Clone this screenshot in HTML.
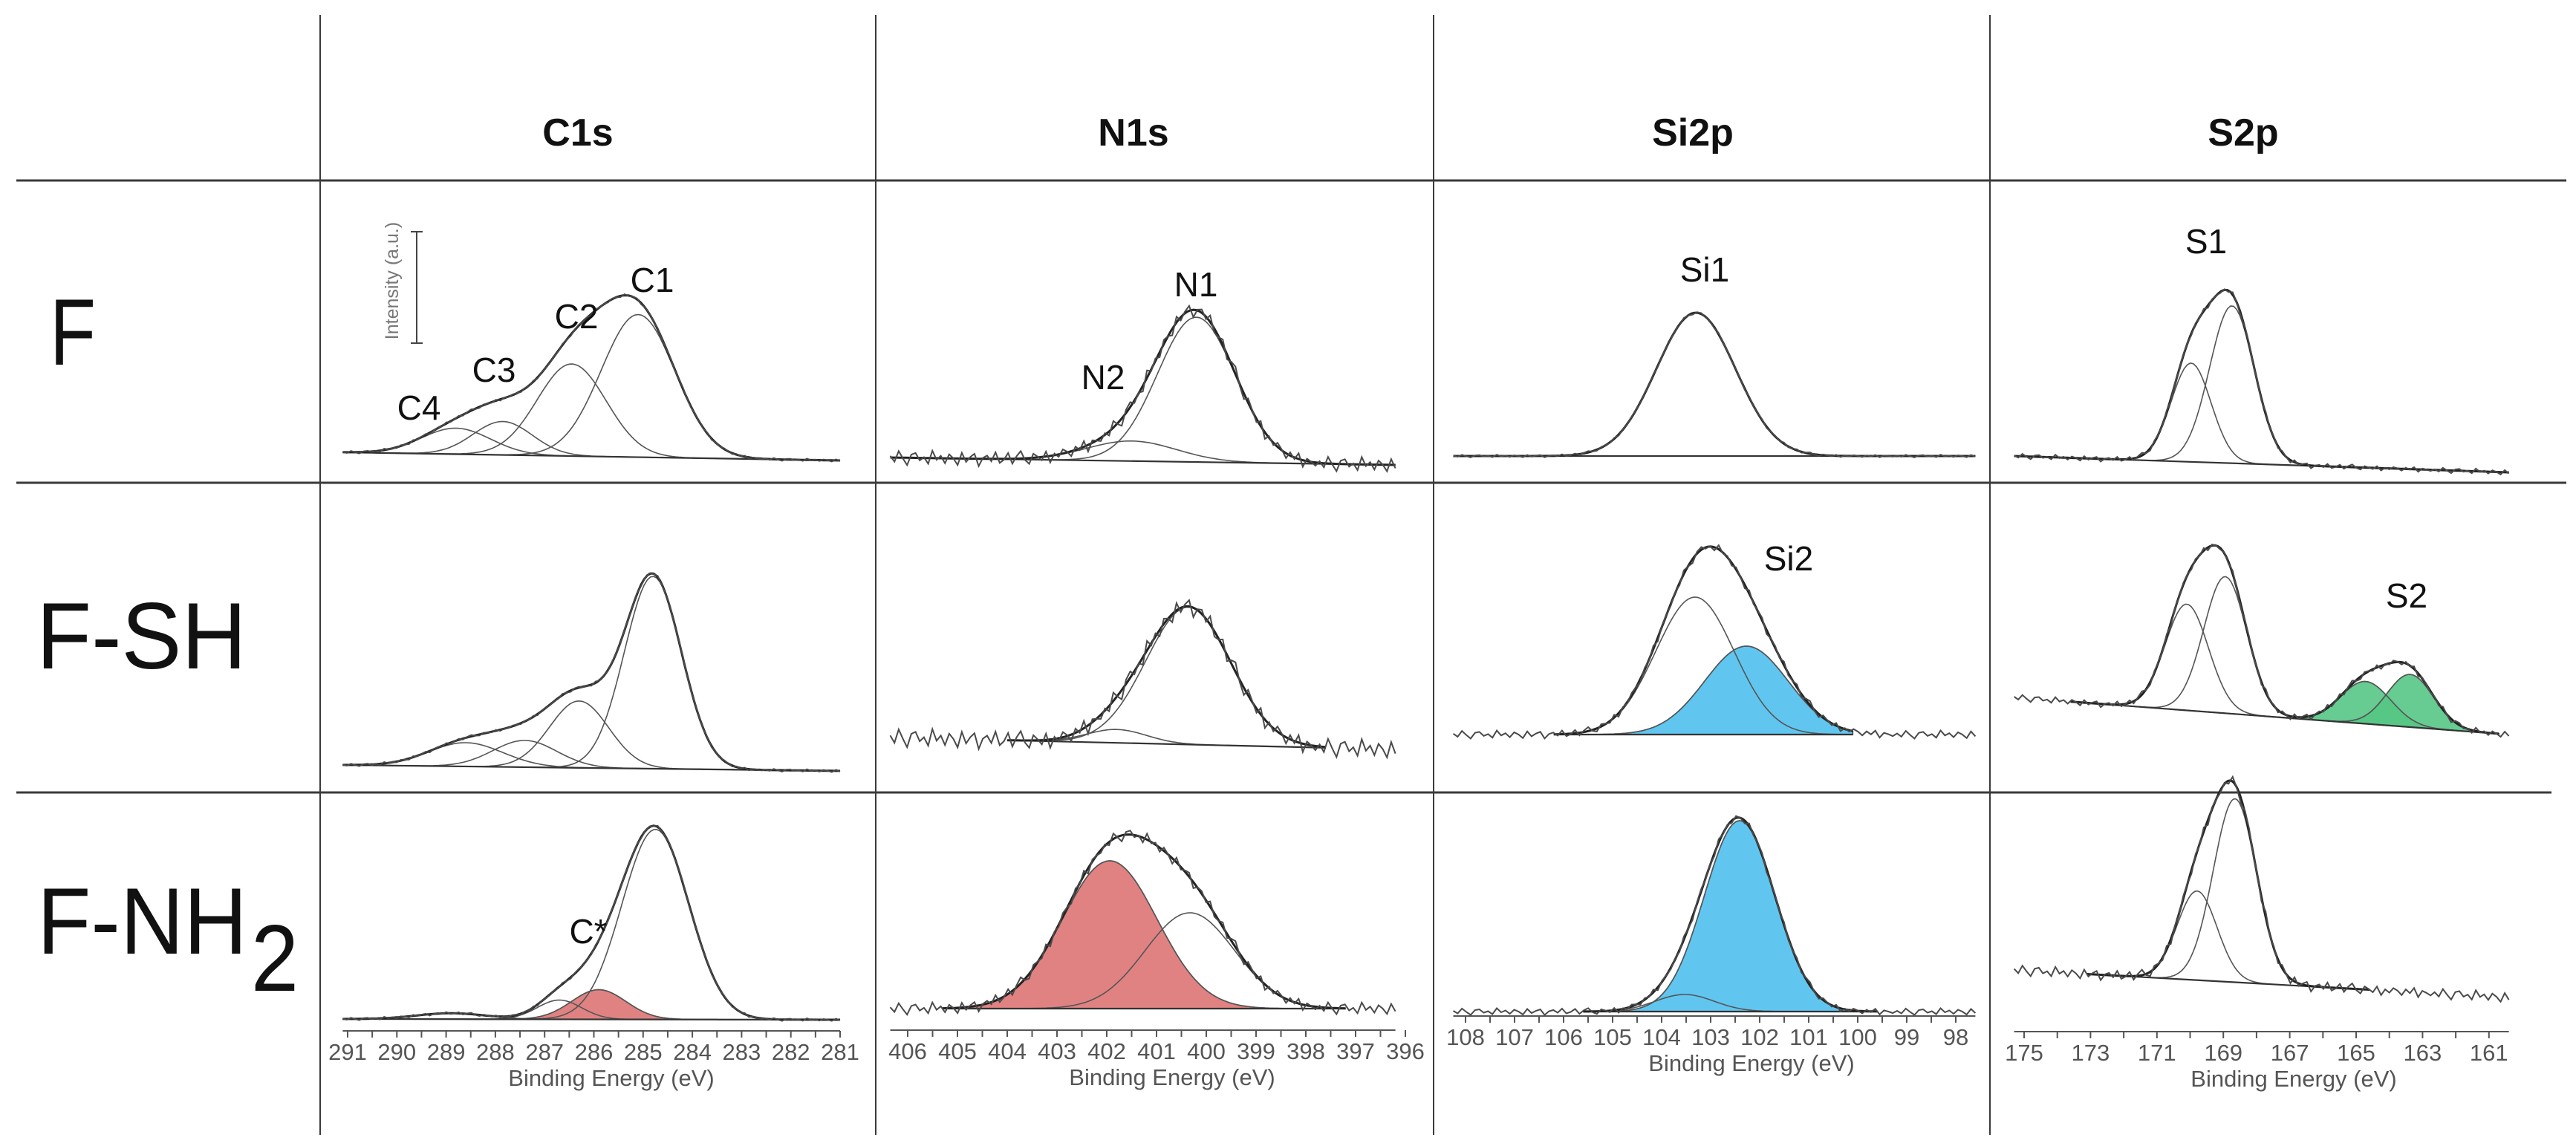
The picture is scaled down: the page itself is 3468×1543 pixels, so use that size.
<!DOCTYPE html>
<html><head><meta charset="utf-8"><title>XPS spectra grid</title>
<style>
html,body{margin:0;padding:0;background:#fff;}
svg{display:block;}
text{font-family:"Liberation Sans",sans-serif;}
</style></head>
<body>
<svg id="fig" width="3468" height="1543" viewBox="0 0 3468 1543" xmlns="http://www.w3.org/2000/svg">
<rect x="0" y="0" width="3468" height="1543" fill="#fff"/>
<g stroke="#3a3a3a">
<line x1="431" y1="20" x2="431" y2="1528" stroke-width="2"/>
<line x1="1179" y1="20" x2="1179" y2="1528" stroke-width="2"/>
<line x1="1930" y1="20" x2="1930" y2="1528" stroke-width="2"/>
<line x1="2679" y1="20" x2="2679" y2="1528" stroke-width="2"/>
<line x1="22" y1="243" x2="3455" y2="243" stroke-width="3"/>
<line x1="22" y1="650" x2="3455" y2="650" stroke-width="3"/>
<line x1="22" y1="1067" x2="3435" y2="1067" stroke-width="3"/>
</g>
<g font-weight="bold" font-size="52" text-anchor="middle" fill="#111">
<text x="778" y="196">C1s</text>
<text x="1526" y="196">N1s</text>
<text x="2279" y="196">Si2p</text>
<text x="3020" y="196">S2p</text>
</g>
<g font-size="127" fill="#111">
<text x="67" y="491" textLength="62" lengthAdjust="spacingAndGlyphs">F</text>
<text x="49" y="900" textLength="283" lengthAdjust="spacingAndGlyphs">F-SH</text>
<text x="50" y="1284" textLength="283" lengthAdjust="spacingAndGlyphs">F-NH</text>
<text x="338" y="1334" textLength="64" lengthAdjust="spacingAndGlyphs">2</text>
</g>
<g stroke="#444" stroke-width="2">
<line x1="561" y1="312" x2="561" y2="462"/>
<line x1="553" y1="312" x2="569" y2="312"/>
<line x1="553" y1="462" x2="569" y2="462"/>
</g>
<text x="0" y="0" transform="translate(536,378) rotate(-90)" text-anchor="middle" font-size="25" fill="#777">Intensity (a.u.)</text>
<g id="panels"></g>
<g id="axes"></g>
<g font-size="46" fill="#111" text-anchor="middle">
<text x="564" y="565">C4</text>
<text x="665" y="514">C3</text>
<text x="776" y="442">C2</text>
<text x="878" y="393">C1</text>
<text x="792" y="1270">C*</text>
<text x="1610" y="399">N1</text>
<text x="1485" y="524">N2</text>
<text x="2295" y="379">Si1</text>
<text x="2408" y="768">Si2</text>
<text x="2970" y="341">S1</text>
<text x="3240" y="818">S2</text>
</g>
</svg>
<script>
// ---- data (binding energies eV, peak heights, widths) ----
const noiseSeq = [0.2,-0.5,0.8,-0.1,-0.9,0.4,0.6,-0.3,0.1,-0.7,0.9,-0.2,0.3,-0.6,0.5,0.0,-0.8,0.7,-0.4,0.2,0.6,-0.9,0.1,0.4,-0.3,0.8,-0.5,-0.1,0.7,-0.6,0.3,0.9,-0.2,-0.7,0.5,0.1,-0.4,0.6,-0.8,0.2,-0.3,0.5,0.1,-0.6,0.4,-0.2,0.7,-0.8,0.3,0.0,-0.4];

const c1sTicks = [291,290,289,288,287,286,285,284,283,282,281];
const n1sTicks = [406,405,404,403,402,401,400,399,398,397,396];
const si2pTicks = [108,107,106,105,104,103,102,101,100,99,98];
const s2pTicks = [175,173,171,169,167,165,163,161];

const c1sF_centers = [285.1,286.45,287.85,288.8];
const c1sF_heights = [192,124,45,35];
const c1sF_sigmas = [0.75,0.7,0.6,0.7];
const c1sSH_centers = [284.8,286.3,287.4,288.6];
const c1sSH_heights = [259,90,36,32];
const c1sSH_sigmas = [0.58,0.6,0.65,0.75];
const c1sNH_centers = [284.75,285.9,286.7,288.9];
const c1sNH_heights = [256,40,26,8];
const c1sNH_sigmas = [0.68,0.55,0.45,0.7];

const n1sF_centers = [400.2,401.5];
const n1sF_heights = [195,27];
const n1sF_sigmas = [0.78,0.9];
const n1sSH_centers = [400.36,401.8];
const n1sSH_heights = [185,18];
const n1sSH_sigmas = [0.85,0.6];
const n1sNH_centers = [401.94,400.33];
const n1sNH_heights = [199,129];
const n1sNH_sigmas = [0.95,0.9];

const si2pF_centers = [103.3];
const si2pF_heights = [193];
const si2pF_sigmas = [0.81];
const si2pSH_centers = [103.32,102.27];
const si2pSH_heights = [185,119];
const si2pSH_sigmas = [0.8,0.85];
const si2pNH_centers = [102.41,103.53];
const si2pNH_heights = [257,23];
const si2pNH_sigmas = [0.72,0.6];

const s2pF_centers = [168.74,169.97];
const s2pF_heights = [212,133];
const s2pF_sigmas = [0.67,0.6];
const s2pSH_centers = [168.94,170.1,164.71,163.37];
const s2pSH_heights = [184,143,57,71];
const s2pSH_sigmas = [0.65,0.65,0.75,0.7];
const s2pNH_centers = [168.65,169.79];
const s2pNH_heights = [247,120];
const s2pNH_sigmas = [0.65,0.6];

// ---- layout ----
const cols = {
  c1s:{x0:468, ppe:66.3, eMax:291, eStart:291.1, eEnd:281.0},
  n1s:{x0:1222, ppe:67, eMax:406, eStart:406.35, eEnd:396.2},
  si2p:{x0:1973, ppe:66, eMax:108, eStart:108.25, eEnd:97.6},
  s2p:{x0:2725, ppe:44.7, eMax:175, eStart:175.3, eEnd:160.4}
};
const RED = "#de7474", BLUE = "#4fc0ee", GREEN = "#55c685";
const panels = [
  {name:"c1s-f", col:"c1s", yL:609, yR:620, c:c1sF_centers, h:c1sF_heights, s:c1sF_sigmas, fill:{}, amp:2},
  {name:"c1s-f-sh", col:"c1s", yL:1030, yR:1038, c:c1sSH_centers, h:c1sSH_heights, s:c1sSH_sigmas, fill:{}, amp:2},
  {name:"c1s-f-nh2", col:"c1s", yL:1372, yR:1373, c:c1sNH_centers, h:c1sNH_heights, s:c1sNH_sigmas, fill:{1:RED}, amp:2},
  {name:"n1s-f", col:"n1s", yL:616, yR:626, c:n1sF_centers, h:n1sF_heights, s:n1sF_sigmas, fill:{}, amp:11},
  {name:"n1s-f-sh", col:"n1s", yL:993, yR:1009, c:n1sSH_centers, h:n1sSH_heights, s:n1sSH_sigmas, fill:{}, amp:14, fs:404.0, fe:397.6},
  {name:"n1s-f-nh2", col:"n1s", yL:1358, yR:1358, c:n1sNH_centers, h:n1sNH_heights, s:n1sNH_sigmas, fill:{0:RED}, amp:9, fs:405.3, fe:397.2},
  {name:"si2p-f", col:"si2p", yL:614, yR:614, c:si2pF_centers, h:si2pF_heights, s:si2pF_sigmas, fill:{}, amp:2},
  {name:"si2p-f-sh", col:"si2p", yL:989, yR:989, c:si2pSH_centers, h:si2pSH_heights, s:si2pSH_sigmas, fill:{1:BLUE}, amp:6, fs:106.2, fe:100.1},
  {name:"si2p-f-nh2", col:"si2p", yL:1362, yR:1362, c:si2pNH_centers, h:si2pNH_heights, s:si2pNH_sigmas, fill:{0:BLUE}, amp:5, fs:105.6, fe:99.6},
  {name:"s2p-f", col:"s2p", yL:614, yR:636, c:s2pF_centers, h:s2pF_heights, s:s2pF_sigmas, fill:{}, amp:4},
  {name:"s2p-f-sh", col:"s2p", yL:939, yR:989, c:s2pSH_centers, h:s2pSH_heights, s:s2pSH_sigmas, fill:{2:GREEN,3:GREEN}, amp:5, fs:173.6, fe:160.7},
  {name:"s2p-f-nh2", col:"s2p", yL:1306, yR:1343, c:s2pNH_centers, h:s2pNH_heights, s:s2pNH_sigmas, fill:{}, amp:8, fs:173.1, fe:164.6}
];
const axisDefs = [
  {col:"c1s", ticks:c1sTicks, minor:0.5, y:1388, title:823, name:"c1s"},
  {col:"n1s", ticks:n1sTicks, minor:0.5, y:1387, title:1578, name:"n1s"},
  {col:"si2p", ticks:si2pTicks, minor:0.5, y:1368, title:2358, name:"si2p"},
  {col:"s2p", ticks:s2pTicks, minor:1, y:1389, title:3088, name:"s2p"}
];

const NS = "http://www.w3.org/2000/svg";
function mk(tag, attrs, parent){
  const el = document.createElementNS(NS, tag);
  for (const k in attrs) el.setAttribute(k, attrs[k]);
  parent.appendChild(el);
  return el;
}
function gauss(e,c,h,s){ return h*Math.exp(-((e-c)*(e-c))/(2*s*s)); }

const gP = document.getElementById("panels");
panels.forEach(p => {
  const col = cols[p.col];
  const X = e => col.x0 + (col.eMax - e)*col.ppe;
  const base = e => p.yL + (p.yR - p.yL)*(col.eStart - e)/(col.eStart - col.eEnd);
  const fs = p.fs !== undefined ? p.fs : col.eStart;
  const fe = p.fe !== undefined ? p.fe : col.eEnd;
  const g = mk("g", {}, gP);
  
  
  const N = 160;
  const fitE = [];
  for (let i=0;i<=N;i++) fitE.push(fs + (fe-fs)*i/N);
  p.c.forEach((c,k) => {
    if (!p.fill[k]) return;
    let d = "";
    fitE.forEach((e,i) => { d += (i?"L":"M") + X(e).toFixed(1) + "," + (base(e)-gauss(e,c,p.h[k],p.s[k])).toFixed(1); });
    for (let i=fitE.length-1;i>=0;i--) d += "L" + X(fitE[i]).toFixed(1) + "," + base(fitE[i]).toFixed(1);
    const f = mk("path", {d:d+"Z", fill:p.fill[k], "fill-opacity":"0.9", stroke:"#444", "stroke-width":"1.5"}, g);
    
    
  });
  p.c.forEach((c,k) => {
    let d = "";
    fitE.forEach((e,i) => { d += (i?"L":"M") + X(e).toFixed(1) + "," + (base(e)-gauss(e,c,p.h[k],p.s[k])).toFixed(1); });
    const l = mk("path", {d:d, fill:"none", stroke:"#555", "stroke-width":"1.6"}, g);
    
    
  });
  const bl = mk("line", {x1:X(fs), y1:base(fs), x2:X(fe), y2:base(fe), stroke:"#333", "stroke-width":"2.2"}, g);
  
  
  let d = "";
  fitE.forEach((e,i) => {
    let sum = 0; p.c.forEach((c,k) => sum += gauss(e,c,p.h[k],p.s[k]));
    d += (i?"L":"M") + X(e).toFixed(1) + "," + (base(e)-sum).toFixed(1);
  });
  const env = mk("path", {d:d, fill:"none", stroke:"#222", "stroke-width":"3"}, g);
  
  
  const M = 120;
  let ds = "";
  for (let i=0;i<=M;i++){
    const e = col.eStart + (col.eEnd-col.eStart)*i/M;
    let sum = 0; p.c.forEach((c,k) => sum += gauss(e,c,p.h[k],p.s[k]));
    const y = base(e) - sum - noiseSeq[i % noiseSeq.length]*p.amp;
    ds += (i?"L":"M") + X(e).toFixed(1) + "," + y.toFixed(1);
  }
  const sp = mk("path", {d:ds, fill:"none", stroke:"#4a4a4a", "stroke-width":"2"}, g);
  
  
});

const gA = document.getElementById("axes");
axisDefs.forEach(a => {
  const col = cols[a.col];
  const X = e => col.x0 + (col.eMax - e)*col.ppe;
  const g = mk("g", {}, gA);
  
  
  const ax = mk("line", {x1:X(col.eStart), y1:a.y, x2:X(col.eEnd), y2:a.y, stroke:"#555", "stroke-width":"2"}, g);
  
  
  const hi = a.ticks[0], lo = a.ticks[a.ticks.length-1];
  for (let e = hi; e >= lo - 1e-6; e -= a.minor){
    const t = mk("line", {x1:X(e), y1:a.y, x2:X(e), y2:a.y+9, stroke:"#555", "stroke-width":"2"}, g);
    
    
  }
  a.ticks.forEach(v => {
    const t = mk("text", {x:X(v), y:a.y+39, "text-anchor":"middle", "font-size":"31", fill:"#555"}, g);
    t.textContent = v;
    
    
  });
  const tt = mk("text", {x:a.title, y:a.y+74, "text-anchor":"middle", "font-size":"31", fill:"#555"}, g);
  tt.textContent = "Binding Energy (eV)";
  
  
});
</script>
</body></html>
